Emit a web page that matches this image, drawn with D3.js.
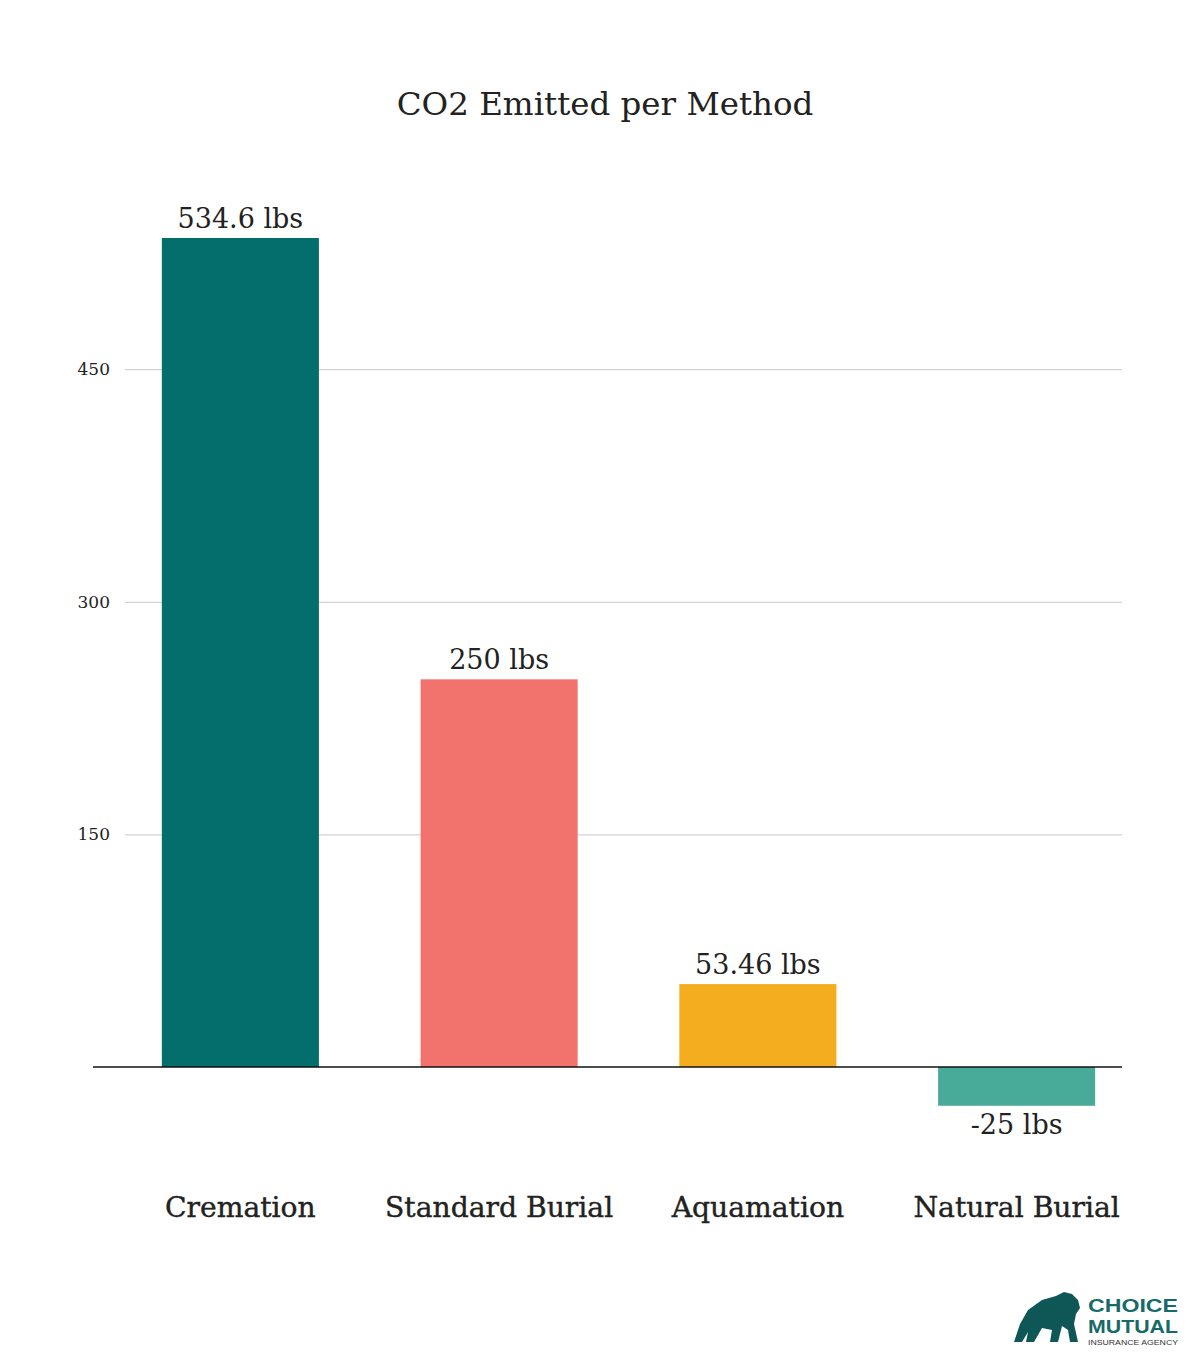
<!DOCTYPE html>
<html>
<head>
<meta charset="utf-8">
<script src="https://cdn.jsdelivr.net/npm/d3@7/dist/d3.min.js"></script>
<style>
  html, body { margin: 0; padding: 0; background: #ffffff; }
  svg { display: block; }
</style>
</head>
<body>
<script>
const categories = ["Cremation", "Standard Burial", "Aquamation", "Natural Burial"];
const values = [534.6, 250, 53.46, -25];
const valueLabels = ["534.6 lbs", "250 lbs", "53.46 lbs", "-25 lbs"];
const barColors = ["#036e6b", "#f2736d", "#f4ad1f", "#48aa98"];
const tickValues = [150, 300, 450];
const title = "CO2 Emitted per Method";

const W = 1200, H = 1365;
const svg = d3.select("body").append("svg").attr("width", W).attr("height", H);

const serif = "'DejaVu Serif', 'Liberation Serif', serif";

const x = d3.scaleBand().domain(categories).range([111, 1146]).paddingInner(0.393).paddingOuter(0.1965);
const y = d3.scaleLinear().domain([0, 534.6]).range([1067, 238]);

// title
svg.append("text").attr("x", 605).attr("y", 115).attr("text-anchor", "middle")
  .attr("font-family", serif).attr("font-size", 32.5).attr("fill", "#222")
  .text(title);

// gridlines + tick labels via axis
const axis = d3.axisLeft(y).tickValues(tickValues).tickSize(-(1122 - 125)).tickPadding(15).tickFormat(d3.format("d"));
const gAxis = svg.append("g").attr("transform", "translate(125,0)").call(axis);
gAxis.select(".domain").remove();
gAxis.selectAll(".tick line").attr("stroke", "#c9c9c9").attr("stroke-width", 1);
gAxis.selectAll(".tick text").attr("font-family", serif).attr("font-size", 17).attr("fill", "#222");

// bars
svg.append("g").selectAll("rect").data(values).join("rect")
  .attr("x", (d, i) => x(categories[i]))
  .attr("width", x.bandwidth())
  .attr("y", d => y(Math.max(0, d)))
  .attr("height", d => Math.abs(y(d) - y(0)))
  .attr("fill", (d, i) => barColors[i]);

// zero line
svg.append("line").attr("x1", 93).attr("x2", 1122).attr("y1", y(0)).attr("y2", y(0))
  .attr("stroke", "#111").attr("stroke-width", 1.5);

// value labels
svg.append("g").selectAll("text").data(values).join("text")
  .attr("x", (d, i) => x(categories[i]) + x.bandwidth() / 2)
  .attr("y", d => d >= 0 ? y(d) - 10 : y(d) + 28)
  .attr("text-anchor", "middle")
  .attr("font-family", serif).attr("font-size", 27).attr("fill", "#222")
  .text((d, i) => valueLabels[i]);

// category labels
svg.append("g").selectAll("text").data(categories).join("text")
  .attr("x", d => x(d) + x.bandwidth() / 2)
  .attr("y", 1217)
  .attr("text-anchor", "middle")
  .attr("font-family", serif).attr("font-size", 28.2).attr("fill", "#222")
  .attr("stroke", "#222").attr("stroke-width", 0.4)
  .text(d => d);

// logo
const logo = svg.append("g").attr("transform", "translate(1012,1290)");
logo.append("path")
  .attr("d", "M2,52 L8,34 L16,20 L30,10 L44,6 L52,2 L60,4 L66,10 L68,18 L64,24 L62,34 L66,52 L58,52 L56,40 L50,36 L46,52 L38,52 L40,40 L30,38 L22,52 L14,52 L16,42 L10,52 Z")
  .attr("fill", "#0f5757");
const lf = "'Liberation Sans', Arial, sans-serif";
logo.append("text").attr("x", 76).attr("y", 22).attr("font-family", lf)
  .attr("font-size", 19).attr("font-weight", "bold").attr("fill", "#17696a")
  .attr("textLength", 90).attr("lengthAdjust", "spacingAndGlyphs").text("CHOICE");
logo.append("text").attr("x", 76).attr("y", 43).attr("font-family", lf)
  .attr("font-size", 19).attr("font-weight", "bold").attr("fill", "#17696a")
  .attr("textLength", 90).attr("lengthAdjust", "spacingAndGlyphs").text("MUTUAL");
logo.append("text").attr("x", 76).attr("y", 54.5).attr("font-family", lf)
  .attr("font-size", 8).attr("fill", "#333")
  .attr("textLength", 90).attr("lengthAdjust", "spacingAndGlyphs").text("INSURANCE AGENCY");
</script>
</body>
</html>
